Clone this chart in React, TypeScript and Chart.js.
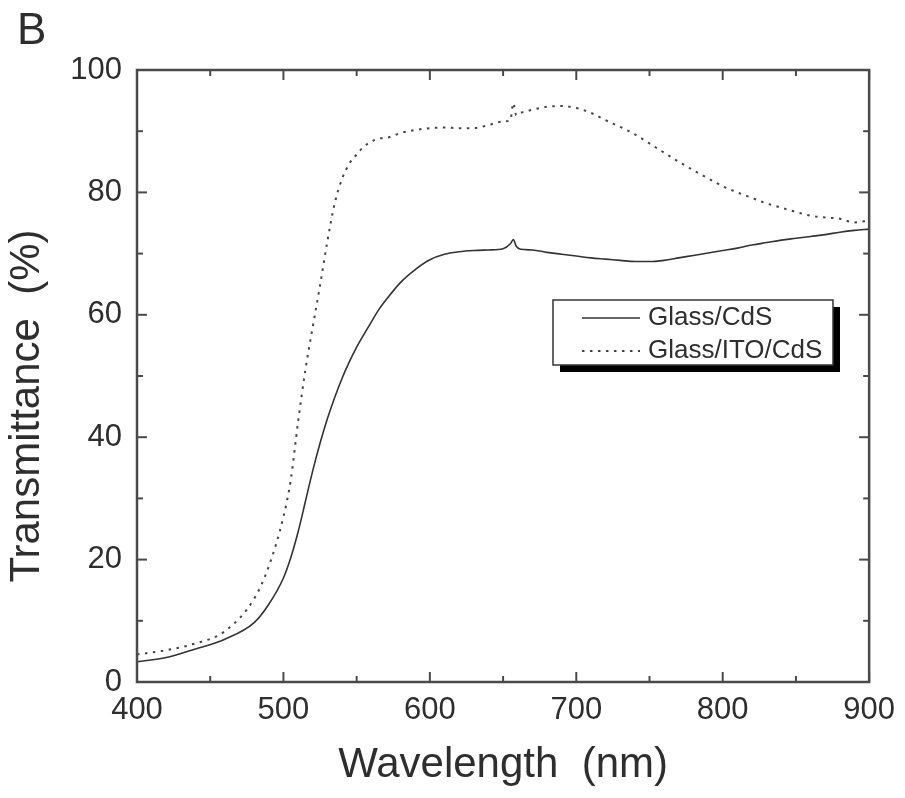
import React, { useEffect, useRef } from "react";
import { Chart, registerables } from "chart.js";

Chart.register(...registerables);

// ---------- data ----------
const wavelengths = [
  400, 420, 440, 460, 480, 490, 500, 505, 510, 515, 520, 525, 530, 535, 540, 545, 550, 555, 560, 565, 570,
  580, 590, 600, 610, 620, 630, 640, 650, 655, 657, 659, 662, 670, 680, 690, 700, 710, 720, 730, 740, 750,
  760, 770, 780, 790, 800, 810, 820, 830, 840, 850, 860, 870, 880, 890, 900,
];

const glassCdS = [
  3.3, 4.0, 5.4, 7.0, 9.7, 12.7, 17.0, 20.3, 24.5, 29.5, 34.5, 39.0, 43.0, 46.5, 49.6, 52.3, 54.7, 56.8, 58.8, 60.8, 62.4,
  65.3, 67.4, 69.0, 69.9, 70.3, 70.5, 70.6, 70.8, 71.6, 72.3, 71.2, 70.7, 70.6, 70.2, 69.9, 69.6, 69.3, 69.1, 68.9, 68.7, 68.7,
  68.9, 69.3, 69.7, 70.1, 70.5, 70.9, 71.4, 71.8, 72.2, 72.5, 72.8, 73.1, 73.5, 73.8, 74.0,
];

const glassItoCdS = [
  4.5, 5.2, 6.3, 8.3, 13.6, 18.9, 27.0, 33.0, 42.5, 51.0, 58.0, 64.8, 72.0, 78.2, 82.2, 84.7, 86.2, 87.5, 88.3, 88.8, 88.9,
  89.7, 90.2, 90.5, 90.6, 90.5, 90.5, 91.0, 91.6, 91.8, 94.6, 92.6, 93.0, 93.5, 94.0, 94.1, 93.8, 93.0, 91.8, 90.7, 89.5, 88.0,
  86.5, 85.0, 83.6, 82.3, 81.0, 80.0, 79.1, 78.2, 77.5, 76.8, 76.2, 75.9, 75.7, 75.1, 75.4,
];

const seriesLabels = ["Glass/CdS", "Glass/ITO/CdS"];
const xTicks = [400, 500, 600, 700, 800, 900];
const yTicks = [0, 20, 40, 60, 80, 100];
const xMinorTicks = [450, 550, 650, 750, 850];
const yMinorTicks = [10, 30, 50, 70, 90];
const panelLabel = "B";
const xTitle = "Wavelength  (nm)";
const yTitle = "Transmittance  (%)";

const FONT = "'Liberation Sans', Arial, Helvetica, sans-serif";
const TEXT = "#2e2e2e";
const AXIS = "#4a4a4a";
const LINE = "#333333";

const framePlugin = {
  id: "frame",
  afterDatasetsDraw(chart: any) {
    const { ctx, chartArea, scales } = chart;
    const { left, right, top, bottom } = chartArea;
    const xs = scales.x;
    const ys = scales.y;
    ctx.save();
    // frame
    ctx.strokeStyle = AXIS;
    ctx.lineWidth = 2.5;
    ctx.strokeRect(left, top, right - left, bottom - top);
    // ticks inward
    ctx.lineWidth = 2;
    const tick = (x1: number, y1: number, x2: number, y2: number) => {
      ctx.beginPath();
      ctx.moveTo(x1, y1);
      ctx.lineTo(x2, y2);
      ctx.stroke();
    };
    const major = 10;
    const minor = 6;
    xTicks.forEach((v) => {
      const px = xs.getPixelForValue(v);
      tick(px, bottom, px, bottom - major);
      tick(px, top, px, top + major);
    });
    xMinorTicks.forEach((v) => {
      const px = xs.getPixelForValue(v);
      tick(px, bottom, px, bottom - minor);
      tick(px, top, px, top + minor);
    });
    yTicks.forEach((v) => {
      const py = ys.getPixelForValue(v);
      tick(left, py, left + major, py);
      tick(right, py, right - major, py);
    });
    yMinorTicks.forEach((v) => {
      const py = ys.getPixelForValue(v);
      tick(left, py, left + minor, py);
      tick(right, py, right - minor, py);
    });

    // y title (rotated)
    ctx.fillStyle = TEXT;
    ctx.font = `42px ${FONT}`;
    ctx.textAlign = "center";
    ctx.textBaseline = "middle";
    ctx.save();
    ctx.translate(27, 406);
    ctx.rotate(-Math.PI / 2);
    ctx.fillText(yTitle, 0, 0);
    ctx.restore();

    // panel label
    ctx.font = `44px ${FONT}`;
    ctx.textAlign = "left";
    ctx.textBaseline = "alphabetic";
    ctx.fillText(panelLabel, 17, 44);

    // legend
    const lx = 553, ly = 300, lw = 280, lh = 65, sh = 7;
    ctx.fillStyle = "#000";
    ctx.fillRect(lx + sh, ly + sh, lw, lh);
    ctx.fillStyle = "#fff";
    ctx.fillRect(lx, ly, lw, lh);
    ctx.strokeStyle = "#333";
    ctx.lineWidth = 1.5;
    ctx.strokeRect(lx, ly, lw, lh);
    const rows = [318, 351];
    chart.data.datasets.forEach((ds: any, i: number) => {
      const y = rows[i];
      ctx.strokeStyle = ds.borderColor;
      ctx.lineWidth = ds.borderWidth;
      ctx.setLineDash(ds.borderDash || []);
      ctx.beginPath();
      ctx.moveTo(582, y);
      ctx.lineTo(640, y);
      ctx.stroke();
      ctx.setLineDash([]);
      ctx.fillStyle = TEXT;
      ctx.font = `26px ${FONT}`;
      ctx.textAlign = "left";
      ctx.textBaseline = "middle";
      ctx.fillText(ds.label, 648, y);
    });
    ctx.restore();
  },
};

export default function App() {
  const ref = useRef<HTMLCanvasElement | null>(null);
  useEffect(() => {
    if (!ref.current) return;
    const chart = new Chart(ref.current, {
      type: "line",
      data: {
        datasets: [
          {
            label: seriesLabels[0],
            data: wavelengths.map((x, i) => ({ x, y: glassCdS[i] })),
            borderColor: LINE,
            borderWidth: 1.6,
            pointRadius: 0,
            cubicInterpolationMode: "monotone",
            fill: false,
          },
          {
            label: seriesLabels[1],
            data: wavelengths.map((x, i) => ({ x, y: glassItoCdS[i] })),
            borderColor: "#444444",
            borderWidth: 2,
            borderDash: [2.5, 5.5],
            pointRadius: 0,
            cubicInterpolationMode: "monotone",
            fill: false,
          },
        ],
      },
      options: {
        animation: false,
        responsive: false,
        devicePixelRatio: 1,
        layout: { padding: { top: 70, right: 35, left: 0, bottom: 0 } },
        plugins: { legend: { display: false }, tooltip: { enabled: false }, title: { display: false } },
        scales: {
          x: {
            type: "linear",
            min: 400,
            max: 900,
            grid: { display: false, drawTicks: false },
            border: { display: false },
            afterBuildTicks: (s: any) => {
              s.ticks = xTicks.map((v) => ({ value: v }));
            },
            ticks: { color: TEXT, font: { family: FONT, size: 31 }, padding: 10, maxRotation: 0 },
            title: {
              display: true,
              text: xTitle,
              color: TEXT,
              font: { family: FONT, size: 42, lineHeight: 1.2 },
              padding: { top: 0, bottom: 7 },
            },
            afterFit: (s: any) => {
              s.height = 116;
            },
          },
          y: {
            type: "linear",
            min: 0,
            max: 100,
            grid: { display: false, drawTicks: false },
            border: { display: false },
            afterBuildTicks: (s: any) => {
              s.ticks = yTicks.map((v) => ({ value: v }));
            },
            ticks: { color: TEXT, font: { family: FONT, size: 31 }, padding: 15 },
            afterFit: (s: any) => {
              s.width = 137;
            },
          },
        },
      },
      plugins: [framePlugin],
    } as any);
    return () => chart.destroy();
  }, []);
  return (
    <div style={{ position: "absolute", left: 0, top: 0, width: 905, height: 798, background: "#fff" }}>
      <canvas ref={ref} width={905} height={798} style={{ width: 905, height: 798, display: "block" }} />
    </div>
  );
}
